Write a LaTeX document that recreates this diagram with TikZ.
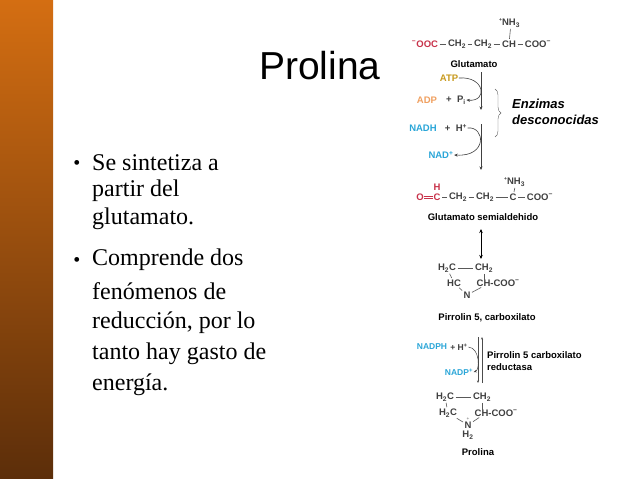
\documentclass[tikz,border=0pt]{standalone}
\usepackage{fontspec}
\setmainfont{Liberation Serif}
\setsansfont{Liberation Sans}
\usetikzlibrary{positioning,calc,decorations.pathreplacing,arrows.meta}
\definecolor{barTop}{HTML}{D46E12}
\definecolor{barBot}{HTML}{5C2E0A}
\definecolor{acid}{HTML}{C8324A}
\definecolor{atpcol}{HTML}{C89A1E}
\definecolor{adpcol}{HTML}{F0A060}
\definecolor{nadcol}{HTML}{2AA6D8}
\newcommand{\chsub}[1]{\textsubscript{#1}}
\newcommand{\chsup}[1]{\textsuperscript{#1}}
\tikzset{
  chem/.style={inner sep=0.5pt, font=\fontsize{9.5}{10}\selectfont\sffamily\bfseries, text=black!75},
  molname/.style={inner sep=1pt, font=\fontsize{9.5}{10}\selectfont\sffamily\bfseries, text=black},
  bond/.style={black!65, line width=0.6pt, shorten >=1pt, shorten <=1pt},
  rxn/.style={black!75, line width=0.6pt, -{Stealth[length=3.5pt,width=3pt]}},
  bullettext/.style={anchor=west, inner sep=0pt, font=\fontsize{24}{25}\selectfont}
}
\begin{document}
\begin{tikzpicture}[x=1pt,y=-1pt]
\useasboundingbox (0,0) rectangle (638,479);
\fill[white] (0,0) rectangle (638,479);

% side bar
\shade[top color=barTop, bottom color=barBot] (0,0) rectangle (53,478);

% title and bullets
\node[font=\fontsize{39}{40}\selectfont\sffamily] (title) at (320,66) {Prolina};
\foreach \t/\y in {Se sintetiza a/163, partir del/191, glutamato./219, Comprende dos/260,
  fenómenos de/291, {reducción, por lo}/323, tanto hay gasto de/354, energía./385}
  \node[bullettext] at (92,\y) {\t};
\node[font=\fontsize{20}{22}\selectfont] (b1) at (77,165) {•};
\node[font=\fontsize{20}{22}\selectfont] (b2) at (77,262) {•};

% glutamato
\node[chem] (gN) at (511,23) {\raisebox{4pt}{\llap{\tiny+}}NH\chsub{3}};
\node[chem, text=acid] (g1) at (425,44) {\chsup{−}OOC};
\node[chem] (g2) at (457,44) {CH\chsub{2}};
\node[chem] (g3) at (483,44) {CH\chsub{2}};
\node[chem] (g4) at (509,44) {CH};
\node[chem] (g5) at (538,44) {COO\chsup{−}};
\draw[bond] (g1) -- (g2);
\draw[bond] (g2) -- (g3);
\draw[bond] (g3) -- (g4);
\draw[bond] (g4) -- (g5);
\draw[bond] (gN) -- (g4);
\node[molname] (glu) at (474,64) {Glutamato};

% first steps
\node[chem, text=atpcol] (atp) at (449,78) {ATP};
\node[chem, text=adpcol] (adp) at (427,100) {ADP};
\node[chem] (pi) at (456,100) {+\ \ P\chsub{i}};
\node[chem, text=nadcol] (nadh) at (423,128) {NADH};
\node[chem] (hp) at (456,128) {+\ \ H\chsup{+}};
\node[chem, text=nadcol] (nad) at (441,155) {NAD\chsup{+}};
\coordinate (s1) at (481,72);
\coordinate (e1) at (481,110);
\coordinate (s2) at (481,124);
\coordinate (e2) at (481,170);
\draw[rxn] (s1) -- (e1);
\draw[rxn] (s2) -- (e2);
\draw[rxn] (atp.east) .. controls (485,76) and (488,102) .. (pi.east);
\draw[rxn] (hp.east) .. controls (485,126) and (488,157) .. (nad.east);
\draw[black!60, decorate, decoration={brace, amplitude=6pt}] (495,89) -- (495,137);
\node[anchor=west, inner sep=0pt, font=\fontsize{13}{16}\selectfont\sffamily\bfseries\itshape, align=left] (enz) at (512,112) {Enzimas\\desconocidas};

% glutamato semialdehido
\node[chem] (sN) at (516,182) {\raisebox{4pt}{\llap{\tiny+}}NH\chsub{3}};
\node[chem, text=acid] (sO) at (420,197) {O};
\node[chem, text=acid] (sC) at (437,197) {C};
\node[chem, text=acid] (sH) at (437,187) {H};
\node[chem] (s2c) at (458,197) {CH\chsub{2}};
\node[chem] (s3c) at (485,197) {CH\chsub{2}};
\node[chem] (s4c) at (513,197) {C};
\node[chem] (s5c) at (540,197) {COO\chsup{−}};
\draw[acid, line width=0.5pt] ($(sO.east)+(0,-1.2)$) -- ($(sC.west)+(0,-1.2)$);
\draw[acid, line width=0.5pt] ($(sO.east)+(0,1.2)$) -- ($(sC.west)+(0,1.2)$);
\draw[bond] (sC) -- (s2c);
\draw[bond] (s2c) -- (s3c);
\draw[bond] (s3c) -- (s4c);
\draw[bond] (s4c) -- (s5c);
\draw[bond] (sN) -- (s4c);
\node[molname] (sem) at (483,217) {Glutamato semialdehido};
\coordinate (u1) at (481,229);
\coordinate (u2) at (481,259);
\draw[black, line width=0.7pt, {Stealth[length=4pt,width=3.5pt]}-{Stealth[length=4pt,width=3.5pt]}] (u1) -- (u2);

% pirrolin 5 carboxilato
\node[chem] (pA) at (447,268) {H\chsub{2}C};
\node[chem] (pB) at (484,268) {CH\chsub{2}};
\node[chem] (pC) at (454,283) {HC};
\node[chem, anchor=west] (pD) at (476,283) {CH-COO\chsup{−}};
\node[chem] (pN) at (467,295) {N};
\draw[bond] (pA) -- (pB);
\draw[bond] (pA) -- (pC);
\draw[bond] (pB) -- (pD.west -| pB);
\draw[bond] (pC) -- (pN);
\draw[bond] (pN) -- (482,287);
\node[molname] (pir) at (487,318) {Pirrolin 5, carboxilato};

% reductasa
\node[chem, text=nadcol, font=\fontsize{8.5}{9}\selectfont\sffamily\bfseries] (nph) at (432,347) {NADPH};
\node[chem, font=\fontsize{8.5}{9}\selectfont\sffamily\bfseries] (nphH) at (459,347) {+\ H\chsup{+}};
\node[chem, text=nadcol, font=\fontsize{8.5}{9}\selectfont\sffamily\bfseries] (nadp) at (459,372) {NADP\chsup{+}};
\coordinate (r1) at (478,337);
\coordinate (r2) at (478,383);
\coordinate (r3) at (482,383);
\coordinate (r4) at (482,337);
\draw[black!70, line width=0.5pt, -{Stealth[length=2.5pt,width=2pt]}] (r1) -- (r2);
\draw[black!70, line width=0.5pt, -{Stealth[length=2.5pt,width=2pt]}] (r3) -- (r4);
\draw[black!75, line width=0.5pt, -{Stealth[length=3pt,width=2.5pt]}] (nphH.east) .. controls (480,348) and (480,370) .. (nadp.east);
\node[anchor=west, inner sep=0pt, font=\fontsize{9.5}{12}\selectfont\sffamily\bfseries, align=left] (red) at (487,361) {Pirrolin 5 carboxilato\\reductasa};

% prolina
\node[chem] (qA) at (445,397) {H\chsub{2}C};
\node[chem] (qB) at (482,397) {CH\chsub{2}};
\node[chem] (qC) at (448,413) {H\chsub{2}C};
\node[chem, anchor=west] (qD) at (474,413) {CH-COO\chsup{−}};
\node[chem] (qN) at (468,425) {N};
\node[chem, font=\tiny] (qP) at (468,419) {+};
\node[chem] (qH) at (468,435) {H\chsub{2}};
\draw[bond] (qA) -- (qB);
\draw[bond] (qA) -- (qC);
\draw[bond] (qB) -- (qD.west -| qB);
\draw[bond] (qC) -- (qN);
\draw[bond] (qN) -- (480,417);
\node[molname] (pro) at (478,452) {Prolina};
\end{tikzpicture}
\end{document}
